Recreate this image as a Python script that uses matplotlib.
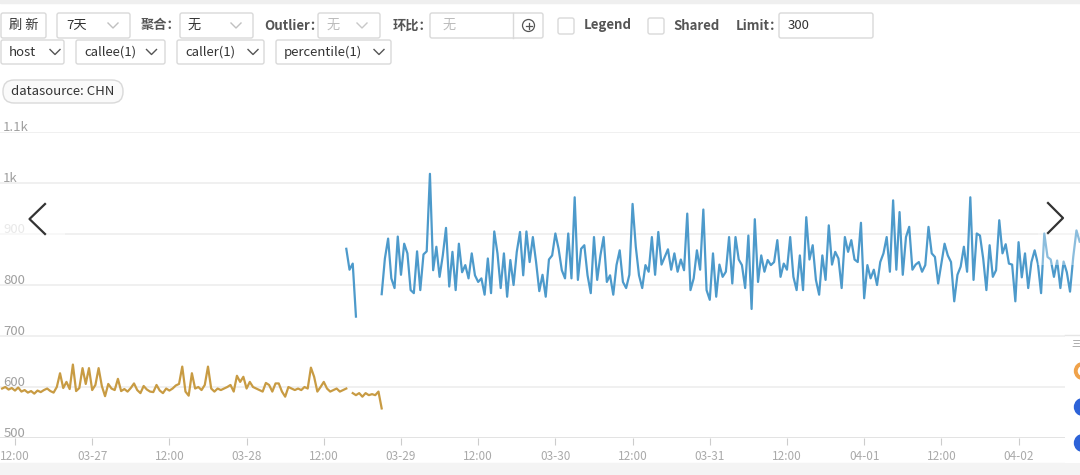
import numpy as np
import pandas as pd
import matplotlib
matplotlib.use("Agg")
import matplotlib.pyplot as plt
import matplotlib.dates as mdates
from matplotlib.patches import FancyBboxPatch, Rectangle, Circle, Wedge
from matplotlib.ticker import FuncFormatter

plt.rcParams["font.family"] = ["Noto Sans CJK SC", "DejaVu Sans"]

nan = np.nan
# orange series, 30 min steps from 03-26 10:00
orange_values = [
    597, 600, 595, 598, 593, 599, 591, 594, 589, 592,
    587, 593, 590, 594, 597, 592, 589, 600, 627, 598,
    610, 596, 644, 592, 598, 637, 606, 637, 594, 604,
    637, 602, 582, 606, 597, 594, 616, 592, 596, 591,
    598, 607, 594, 588, 602, 595, 591, 590, 604, 593,
    588, 597, 593, 597, 603, 606, 640, 591, 583, 627,
    597, 600, 594, 604, 640, 597, 591, 597, 594, 597,
    600, 604, 591, 622, 610, 620, 597, 610, 600, 597,
    594, 591, 608, 604, 591, 607, 607, 591, 581, 600,
    597, 594, 597, 594, 600, 597, 638, 620, 591, 600,
    610, 597, 591, 594, 597, 591, 594, 597, nan, 588,
    584, 588, 581, 588, 584, 586, 584, 591, 558,
]
orange_start = "2021-03-26 10:00"

# blue series, 30 min steps from 03-28 15:30
blue_values = [
    871, 830, 842, 738, nan, nan, nan, nan, nan, nan, nan,
    782, 852, 891, 813, 794, 895, 820, 881, 862, 790,
    784, 866, 790, 860, 866, 1018, 829, 875, 816, 858,
    912, 797, 865, 790, 881, 825, 839, 813, 862, 819,
    806, 813, 781, 852, 784, 905, 862, 794, 862, 777,
    849, 800, 865, 904, 819, 905, 845, 894, 845, 788,
    820, 777, 850, 858, 901, 871, 829, 813, 901, 813,
    972, 810, 871, 878, 819, 784, 894, 810, 858, 894,
    806, 819, 781, 839, 868, 806, 794, 820, 959, 875,
    819, 794, 839, 826, 894, 820, 904, 840, 855, 870,
    830, 862, 826, 850, 829, 940, 790, 813, 868, 830,
    948, 790, 771, 862, 777, 840, 816, 826, 894, 803,
    894, 850, 839, 794, 897, 753, 929, 806, 858, 826,
    849, 839, 845, 888, 816, 842, 830, 894, 816, 790,
    858, 790, 933, 850, 878, 810, 781, 858, 810, 917,
    840, 865, 852, 794, 894, 865, 888, 850, 845, 922,
    774, 839, 813, 830, 800, 845, 862, 894, 826, 966,
    830, 943, 820, 894, 914, 830, 840, 845, 826, 839,
    914, 862, 855, 803, 842, 881, 858, 845, 768, 820,
    836, 875, 826, 972, 810, 901, 897, 852, 790, 878,
    816, 829, 927, 862, 880, 842, 840, 768, 884, 815,
    862, 794, 845, 868, 842, 784, 901, 855, 850, 816,
    848, 794, 846, 825, 787, 855, 907, 885,
]
blue_start = "2021-03-28 15:30"

y_ticks = [500, 600, 700, 800, 900, 1000, 1100]
y_labels = ["500", "600", "700", "800", "900", "1k", "1.1k"]

orange_t = pd.date_range(orange_start, periods=len(orange_values), freq="30min")
blue_t = pd.date_range(blue_start, periods=len(blue_values), freq="30min")

fig = plt.figure(figsize=(10.8, 4.75), dpi=100)
ax = fig.add_axes([0, 1 - 438 / 475, 1, 306 / 475])

ax.plot(orange_t, orange_values, color="#c89b43", lw=1.6, zorder=3)
ax.plot(blue_t, blue_values, color="#4d9acb", lw=1.6, zorder=3)

t0 = pd.Timestamp("2021-03-26 12:00")
ax.set_xlim(t0 - pd.Timedelta(hours=2.33), t0 + pd.Timedelta(hours=165.55))
ax.set_ylim(500, 1100)
for s in ax.spines.values():
    s.set_visible(False)
ax.set_yticks(y_ticks)
ax.tick_params(axis="y", length=0, labelleft=False)
ax.grid(axis="y", color="#efefef", lw=1.3)
ax.axhline(500, color="#e2e2e2", lw=1.3)

ax.xaxis.set_major_locator(mdates.HourLocator(byhour=[0, 12]))
ax.xaxis.set_major_formatter(FuncFormatter(
    lambda v, p: mdates.num2date(v).strftime("%m-%d" if mdates.num2date(v).hour == 0 else "%H:%M")))
ax.tick_params(axis="x", length=5, color="#cccccc", labelcolor="#aaaaaa",
               labelsize=8.5, pad=4)

trans = ax.get_yaxis_transform()
for v, lab in zip(y_ticks, y_labels):
    ax.text(0.003, v - 3, lab, transform=trans, ha="left", va="bottom",
            fontsize=9.5, color="#c8c8c8" if lab == "900" else "#a0a0a0", zorder=5)

# ui overlay in pixel coordinates
ui = fig.add_axes([0, 0, 1, 1], zorder=5)
ui.set_xlim(0, 1080)
ui.set_ylim(475, 0)
ui.axis("off")
ui.patch.set_alpha(0)

ui.add_patch(Rectangle((0, 0), 1080, 3, color="#efefef"))
ui.add_patch(Rectangle((0, 463), 1080, 12, color="#f4f4f4"))


def box(x, y, w, h, r=2, fc="white", ec="#d9d9d9"):
    ui.add_patch(FancyBboxPatch((x, y), w, h, boxstyle=f"round,pad=0,rounding_size={r}",
                                fc=fc, ec=ec, lw=1))


def chevron(cx, cy, color):
    ui.plot([cx - 5, cx, cx + 5], [cy - 2.5, cy + 2.5, cy - 2.5], color=color, lw=1)


def label(x, y, s, color="#333333", size=9.5, weight="normal", ha="left"):
    ui.text(x, y, s, ha=ha, va="center", fontsize=size, color=color, fontweight=weight)


# row 1
box(1, 13, 45, 25)
label(23.5, 25.5, "刷 新", ha="center")
box(57, 13, 73, 25)
label(66, 25.5, "7天")
chevron(113, 25.5, "#c0c0c0")
label(141, 25.5, "聚合：", color="#555555", weight="bold")
box(180, 13, 73, 25)
label(188, 25.5, "无")
chevron(236, 25.5, "#c0c0c0")
label(264, 25.5, "Outlier：", color="#555555", weight="bold")
box(318, 13, 62, 25)
label(327, 25.5, "无", color="#bbbbbb")
chevron(362, 25.5, "#c8c8c8")
label(393, 25.5, "环比：", color="#555555", weight="bold")
box(430, 13, 113, 25)
ui.plot([513, 513], [13, 38], color="#d9d9d9", lw=1)
label(443, 25.5, "无", color="#bbbbbb")
ui.add_patch(Circle((528.5, 25.5), 6, fc="none", ec="#555555", lw=0.9))
ui.plot([525.5, 531.5], [25.5, 25.5], color="#555555", lw=0.9)
ui.plot([528.5, 528.5], [22.5, 28.5], color="#555555", lw=0.9)
box(558, 18, 16, 16)
label(584, 25.5, "Legend", color="#555555", weight="bold")
box(648, 18, 16, 16)
label(673, 25.5, "Shared", color="#555555", weight="bold")
label(736, 25.5, "Limit：", color="#555555", weight="bold")
box(779, 13, 94, 25)
label(788, 25.5, "300")

# row 2
for x, w, txt, cx in [(1, 63, "host", 55), (76, 89, "callee(1)", 151.5),
                      (177, 87, "caller(1)", 253), (276, 115, "percentile(1)", 379)]:
    box(x, 40, w, 24)
    label(x + 8, 52, txt)
    chevron(cx, 52, "#555555")

box(3, 80, 120, 23, r=11, fc="#fafafa")
label(11, 91.5, "datasource: CHN")

# navigation arrows
ui.add_patch(Rectangle((0, 195), 65, 70, color="white", alpha=0.6, lw=0))
ui.add_patch(Rectangle((1038, 195), 42, 70, color="white", alpha=0.35, lw=0))
ui.plot([45, 29.5, 45], [204, 219, 234], color="#333333", lw=1.6)
ui.plot([1048, 1063, 1048], [203, 218, 233], color="#333333", lw=1.6)

# legend panel at right edge
ui.add_patch(Rectangle((1065, 335), 15, 128, fc="white", ec="none"))
ui.plot([1065, 1080], [335, 335], color="#e5e5e5", lw=1)
label(1071, 344, "三", color="#999999", size=7)
ui.add_patch(Wedge((1083, 371), 8.5, 90, 270, width=2.5, color="#f0a24a"))
ui.add_patch(Circle((1083, 407), 8.5, color="#2d63d8"))
ui.add_patch(Circle((1083, 443), 8.5, color="#2d63d8"))

fig.savefig("out.png", dpi=100)
